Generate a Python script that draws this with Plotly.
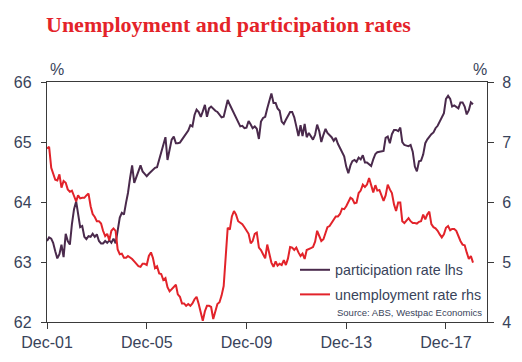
import pandas as pd
import plotly.graph_objects as go

start_month = "2001-12-01"

participation = [
    63.35, 63.41, 63.39, 63.32, 63.18, 63.06, 63.13, 63.29, 63.08, 63.47, 63.35, 63.29,
    63.63, 63.88, 64.01, 63.79, 63.58, 63.60, 63.42, 63.38, 63.43, 63.42, 63.47, 63.42,
    63.46, 63.35, 63.31, 63.31, 63.35, 63.32, 63.36, 63.32, 63.39, 63.31, 63.56, 63.74,
    63.82, 63.79, 63.99, 64.15, 64.40, 64.61, 64.32, 64.43, 64.51, 64.61, 64.51, 64.47,
    64.43, 64.47, 64.51, 64.54,
    64.57, 64.58, 64.71, 64.85, 64.94, 65.08, 64.70, 64.86, 65.04, 65.09, 64.98, 64.98,
    64.99, 65.04, 65.09, 65.12, 65.19, 65.28, 65.26, 65.45, 65.54, 65.50, 65.42, 65.51,
    65.62, 65.42, 65.56, 65.59, 65.55, 65.52, 65.50, 65.45, 65.41, 65.42, 65.57, 65.70,
    65.62, 65.55, 65.46, 65.40, 65.31, 65.26, 65.27, 65.23, 65.24, 65.35, 65.29, 65.23,
    65.26, 65.22, 65.05, 65.34,
    65.40, 65.42, 65.56, 65.71, 65.81, 65.65, 65.65, 65.56, 65.52, 65.34, 65.30, 65.37,
    65.43, 65.50, 65.50, 65.41, 65.26, 65.10, 65.28, 65.10, 65.30, 65.08, 65.15, 65.10,
    65.04, 65.12, 65.29, 65.18, 65.00, 65.12, 65.22, 65.15, 65.12, 65.08, 65.02, 65.07,
    64.97, 64.89, 64.84, 64.76, 64.59, 64.48, 64.61, 64.68, 64.70, 64.67, 64.74, 64.71,
    64.78, 64.66, 64.66, 64.63,
    64.60, 64.71, 64.80, 64.83, 64.84, 64.84, 64.85, 65.07, 65.09, 64.98, 65.13, 65.20,
    65.20, 65.18, 65.24, 65.00, 64.95, 64.94, 64.93, 64.95, 64.84, 64.59, 64.51, 64.68,
    64.69, 64.79, 64.98, 65.04, 65.09, 65.13, 65.16, 65.23, 65.27, 65.34, 65.40, 65.48,
    65.72, 65.77, 65.72, 65.59, 65.61, 65.59, 65.56, 65.66, 65.66, 65.59, 65.46, 65.53,
    65.66, 65.63,
]

unemployment = [
    6.89, 6.92, 6.57, 6.46, 6.37, 6.36, 6.46, 6.24, 6.35, 6.32, 6.21, 6.17,
    6.19, 6.10, 6.01, 6.11, 6.06, 6.07, 6.07, 6.11, 6.14, 5.93, 5.80, 5.75,
    5.68, 5.68, 5.64, 5.52, 5.43, 5.47, 5.36, 5.52, 5.56, 5.52, 5.21, 5.13,
    5.14, 5.07, 5.07, 5.10, 5.08, 5.05, 5.01, 4.96, 4.93, 4.92, 4.97, 4.97,
    4.95, 5.10, 5.16, 5.07,
    4.90, 4.93, 4.81, 4.80, 4.70, 4.73, 4.58, 4.51, 4.55, 4.59, 4.62, 4.46,
    4.42, 4.31, 4.31, 4.27, 4.30, 4.27, 4.31, 4.38, 4.42, 4.30, 4.16, 4.02,
    4.18, 4.27, 4.27, 4.25, 4.05, 4.18, 4.30, 4.33, 4.44, 4.60, 5.05, 5.57,
    5.54, 5.76, 5.85, 5.79, 5.68, 5.65, 5.63, 5.58, 5.53, 5.47, 5.31, 5.35,
    5.47, 5.49, 5.24, 5.20,
    5.13, 5.06, 5.29, 5.16, 4.99, 4.92, 5.01, 4.94, 4.97, 4.95, 5.03, 4.95,
    5.06, 5.25, 5.24, 5.20, 5.24, 5.16, 5.10, 5.14, 5.05, 5.20, 5.21, 5.23,
    5.25, 5.34, 5.52, 5.43, 5.35, 5.38, 5.49, 5.58, 5.60, 5.65, 5.70, 5.76,
    5.76, 5.80, 5.89, 5.88, 5.93, 6.00, 6.07, 6.05, 5.98, 5.99, 6.15, 6.19,
    6.29, 6.25, 6.29, 6.40,
    6.27, 6.16, 6.28, 6.19, 6.20, 6.11, 6.02, 6.11, 6.29, 6.21, 6.15, 5.96,
    5.85, 5.99, 5.99, 5.68, 5.65, 5.69, 5.73, 5.68, 5.65, 5.65, 5.64, 5.67,
    5.68, 5.79, 5.71, 5.79, 5.84, 5.63, 5.58, 5.56, 5.52, 5.46, 5.41, 5.46,
    5.57, 5.60, 5.53, 5.55, 5.55, 5.52, 5.42, 5.35, 5.29, 5.28, 5.16, 5.05,
    5.10, 4.99,
]

dates = pd.date_range(start_month, periods=len(participation), freq="MS")

tick_dates = ["2001-12-01", "2005-12-01", "2009-12-01", "2013-12-01", "2017-12-01"]
tick_labels = ["Dec-01", "Dec-05", "Dec-09", "Dec-13", "Dec-17"]
left_ticks = [62, 63, 64, 65, 66]
right_ticks = [4, 5, 6, 7, 8]

PURPLE = "#4a2a4c"
RED = "#e2232a"
TXT = "#39435a"
AX = "#3a3a3a"

fig = go.Figure()
fig.add_trace(go.Scatter(x=dates, y=participation, mode="lines",
                         name="participation rate lhs",
                         line=dict(color=PURPLE, width=2), legendgroup="a"))
fig.add_trace(go.Scatter(x=dates, y=unemployment, mode="lines",
                         name="unemployment rate rhs", yaxis="y2",
                         line=dict(color=RED, width=2), legendgroup="b"))

fig.update_layout(
    width=522, height=362,
    margin=dict(l=47, r=35, t=82, b=40),
    paper_bgcolor="white", plot_bgcolor="white",
    font=dict(family="Liberation Sans, Arial, sans-serif", size=16, color=TXT),
    title=dict(text="<b>Unemployment and participation rates</b>",
               font=dict(family="Liberation Serif, Times New Roman, serif", size=22, color="#e42329"),
               xref="container", x=46/522, xanchor="left",
               yref="container", y=1-24/362, yanchor="middle"),
    xaxis=dict(type="date", range=["2001-12-01", "2019-07-25"],
               tickvals=tick_dates, ticktext=tick_labels,
               showline=True, linecolor=AX, linewidth=1.3, mirror=True,
               ticks="outside", ticklen=6, tickcolor=AX, tickwidth=1.3,
               showgrid=False, zeroline=False, tickfont=dict(size=16, color=TXT)),
    yaxis=dict(range=[62, 66], tickvals=left_ticks,
               showline=True, linecolor=AX, linewidth=1.3,
               ticks="outside", ticklen=5, tickcolor=AX, tickwidth=1.3,
               showgrid=False, zeroline=False, ticklabelstandoff=6,
               tickfont=dict(size=16, color=TXT)),
    yaxis2=dict(range=[4, 8], tickvals=right_ticks, overlaying="y", side="right",
                showline=True, linecolor=AX, linewidth=1.3,
                ticks="outside", ticklen=6, tickcolor=AX, tickwidth=1.3,
                showgrid=False, zeroline=False, ticklabelstandoff=5,
                tickfont=dict(size=16, color=TXT)),
    legend=dict(x=(295-47)/440, xanchor="left", y=(322-254)/240, yanchor="top",
                bgcolor="rgba(0,0,0,0)", font=dict(size=14.3, color=TXT),
                tracegroupgap=3, itemwidth=30),
    showlegend=True,
    annotations=[
        dict(text="%", xref="paper", yref="paper", x=(57-47)/440, y=(322-70)/240,
             xanchor="center", yanchor="middle", showarrow=False,
             font=dict(size=16, color=TXT)),
        dict(text="%", xref="paper", yref="paper", x=(480-47)/440, y=(322-70)/240,
             xanchor="center", yanchor="middle", showarrow=False,
             font=dict(size=16, color=TXT)),
        dict(text="Source: ABS, Westpac Economics", xref="paper", yref="paper",
             x=(484-47)/440, y=(322-312.7)/240, xanchor="right", yanchor="middle",
             showarrow=False, font=dict(size=9.5, color=TXT)),
    ],
)

fig.write_html("out.html", config={"displayModeBar": False},
               post_script="document.body.style.margin='0px';")
